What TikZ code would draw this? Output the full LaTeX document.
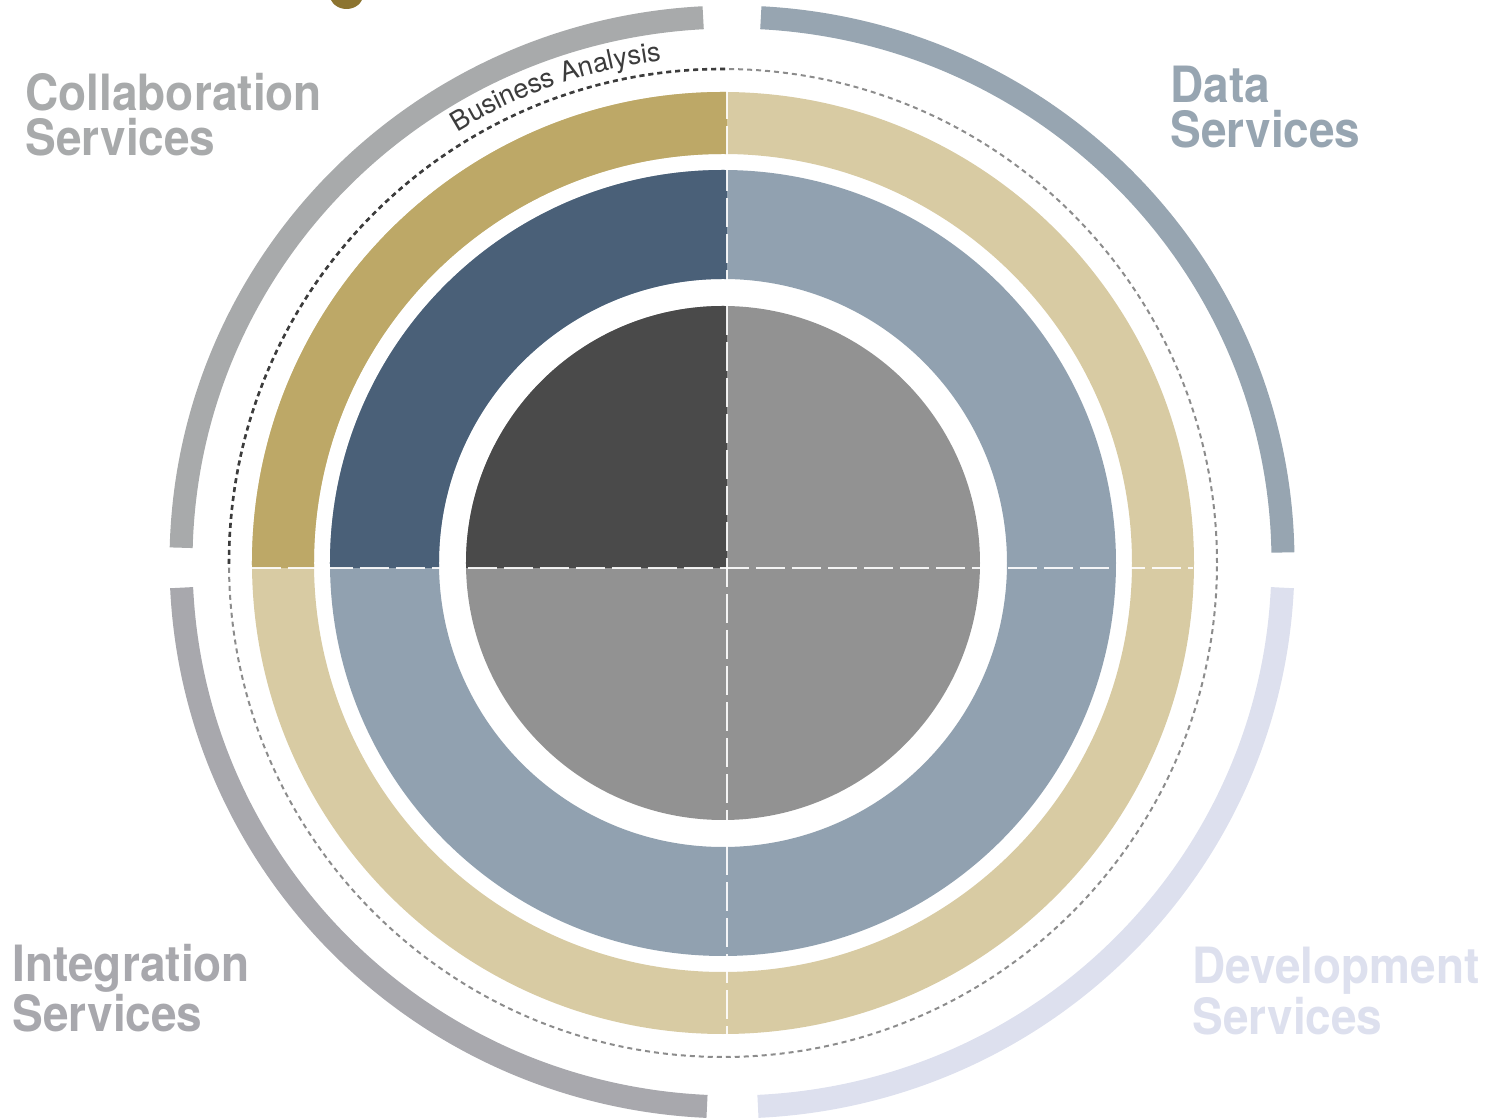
\documentclass[tikz,border=0pt]{standalone}
\usepackage{fontspec}
\setmainfont{TeX Gyre Heros}
\usepackage{tikz}
\usetikzlibrary{decorations.text}

\definecolor{golddk}{HTML}{BDA867}
\definecolor{goldlt}{HTML}{D8CBA3}
\definecolor{bluedk}{HTML}{4A6078}
\definecolor{bluelt}{HTML}{91A1B0}
\definecolor{coredk}{HTML}{4A4A4A}
\definecolor{corelt}{HTML}{929292}
\definecolor{collabc}{HTML}{A8AAAB}
\definecolor{datac}{HTML}{97A5B1}
\definecolor{integc}{HTML}{A8A8AD}
\definecolor{devc}{HTML}{DDE0EE}
\definecolor{blobc}{HTML}{8C7430}
\definecolor{bac}{HTML}{3C3C3C}

\begin{document}
\begin{tikzpicture}[
  x = 0.5pt, y = 0.5pt,
     ring/.style = {even odd rule},
    outer/.style = {line width=11.5pt},
     svc/.style = {font=\bfseries\fontsize{25}{22.5}\selectfont,
                   align=left, inner sep=0pt, xscale=0.92},
  dotring/.style = {line width=1pt, dash pattern=on 2.5pt off 2pt},
  divider/.style = {white, opacity=0.9, line width=1.2pt,
                    dash pattern=on 14.5pt off 3.5pt}
                   ]
\useasboundingbox (-723,-555) rectangle (776,563);

% rings, light quadrants
\fill[goldlt, ring] (0,0) circle[radius=471] circle[radius=409];
\fill[bluelt, ring] (0,0) circle[radius=393] circle[radius=284];
\fill[corelt] (0,0) circle[radius=257];
\draw[dotring, black!45] (0,0) circle[radius=494];

% top left quadrant, dark
\begin{scope}
  \clip (4,-5) rectangle (-620,620);
  \fill[golddk, ring] (0,0) circle[radius=471] circle[radius=409];
  \fill[bluedk, ring] (0,0) circle[radius=393] circle[radius=284];
  \fill[coredk] (0,0) circle[radius=257];
  \draw[dotring, bac, line width=1.3pt] (0,0) circle[radius=494];
\end{scope}

% quadrant dividers
\coordinate (top) at (4,473);
\coordinate (bottom) at (4,-472);
\coordinate (left) at (-471,-5);
\coordinate (right) at (470,-5);
\draw[divider] (top) -- (bottom);
\draw[divider] (left) -- (right);

% outer service arcs
\foreach \from/\to/\col in {1/87/datac, 93/178.5/collabc,
                            182.7/267.4/integc, 272.7/357.3/devc}
  \draw[outer, \col] ([shift={(\from:551 and 545)}]9,1)
      arc[start angle=\from, end angle=\to, x radius=551, y radius=545];

% labels
\node[svc, text=collabc, anchor=north west] (collab) at (-698,490) {Collaboration\\Services};
\node[svc, text=datac, anchor=north west] (data) at (447,497) {Data\\Services};
\node[svc, text=integc, anchor=north west] (integ) at (-711,-381) {Integration\\Services};
\node[svc, text=devc, anchor=north west] (dev) at (469,-384) {Development\\Services};

\path[decorate, decoration={text along path, text align=center,
      text={|\fontsize{13.5}{16}\selectfont\color{bac}|Business Analysis}}]
  (124.3:506) arc[start angle=124.3, end angle=94.3, radius=506];

% cut off mark at the top edge
\fill[blobc] (-376.5,568) ellipse[x radius=16.5, y radius=14];
\end{tikzpicture}
\end{document}
